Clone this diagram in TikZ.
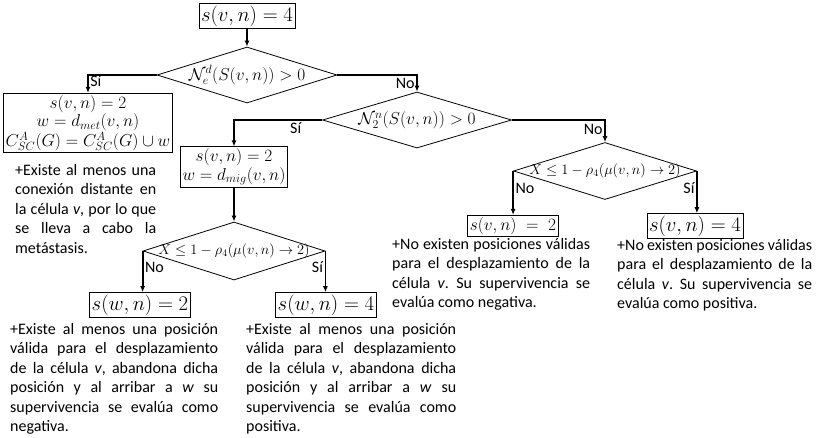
\documentclass[tikz,border=0pt]{standalone}
\usepackage{fontspec}
\setmainfont{Carlito}
\usetikzlibrary{shapes.geometric,arrows.meta}
\frenchspacing

\newcommand{\notefont}{\fontsize{16}{19.5}\selectfont}
\newcommand{\bigmath}{\fontsize{20}{22}\selectfont}
\newcommand{\midmath}{\fontsize{17}{16.5}\selectfont}
\newcommand{\smallmath}{\fontsize{14}{15}\selectfont}

\tikzset{
  box/.style={draw, line width=0.9pt, inner sep=2pt},
  decision/.style={diamond, draw, line width=0.8pt, inner sep=0pt},
  flow/.style={line width=1.8pt, -{Latex[length=6pt,width=5pt]}},
  note/.style={anchor=north west, inner sep=0pt, align=justify, font=\notefont},
  tag/.style={font=\notefont, inner sep=1.5pt},
}

\begin{document}
\begin{tikzpicture}[x=1pt,y=-1pt]
  \useasboundingbox (0,0) rectangle (817,437);
  % decisiones y estados
  \node[box, font=\bigmath] (start) at (247,16) {$s(v,n)=4$};
  \node[decision, minimum width=180pt, minimum height=56pt,
        label={[font=\midmath]center:$\mathcal{N}_e^d(S(v,n))>0$}] (dmet) at (247,75) {};
  \node[box, align=center, font=\midmath] (met) at (88,123)
       {$s(v,n)=2$\\$w=d_{met}(v,n)$\\$C^A_{SC}(G)=C^A_{SC}(G)\cup w$};
  \node[decision, minimum width=189pt, minimum height=56pt,
        label={[font=\midmath]center:$\mathcal{N}_2^n(S(v,n))>0$}] (dmig) at (417,120) {};
  \node[box, align=center, font=\midmath] (mig) at (234,167)
       {$s(v,n)=2$\\$w=d_{mig}(v,n)$};
  \node[decision, minimum width=182pt, minimum height=58pt,
        label={[font=\smallmath]center:$X\leq 1-\rho_4(\mu(v,n)\rightarrow 2)$}] (dmove) at (234,251) {};
  \node[box, font=\bigmath] (moveno) at (140,305) {$s(w,n)=2$};
  \node[box, font=\bigmath] (moveyes) at (326,305) {$s(w,n)=4$};
  \node[decision, minimum width=183pt, minimum height=57pt,
        label={[font=\smallmath]center:$X\leq 1-\rho_4(\mu(v,n)\rightarrow 2)$}] (dstay) at (605,171) {};
  \node[box, font=\fontsize{19}{21}\selectfont] (stayno) at (513,226) {$s(v,n)\;=\;2$};
  \node[box, font=\bigmath] (stayyes) at (695,226) {$s(v,n)=4$};

  % conectores
  \draw[flow] (start) -- (dmet);
  \draw[flow] (dmet.west) -| node[tag, pos=0.68, right] (ymet) {Sí} (met.north);
  \draw[flow] (dmet.east) -| node[tag, pos=0.75, left] (nomet) {No} (dmig.north);
  \draw[flow] (dmig.west) -| node[tag, pos=0.15, below] (ymig) {Sí} (mig.north);
  \draw[flow] (dmig.east) -| node[tag, pos=0.72, left] (nomig) {No} (dstay.north);
  \draw[flow] (mig) -- (dmove);
  \draw[flow] (dmove.west) -- node[tag, pos=0.4, right] (nomove) {No} (dmove.west |- moveno.north);
  \draw[flow] (dmove.east) -- node[tag, pos=0.4, left] (ymove) {Sí} (dmove.east |- moveyes.north);
  \draw[flow] (dstay.west) -- node[tag, pos=0.4, right] (nostay) {No} (dstay.west |- stayno.north);
  \draw[flow] (dstay.east) -- node[tag, pos=0.4, left] (ystay) {Sí} (dstay.east |- stayyes.north);

  % notas
  \node[note, text width=141pt] (nmet) at (15,164)
       {+Existe al menos una\linebreak conexión distante en\linebreak la célula \textit{v}, por lo que\linebreak se lleva a cabo la\linebreak metástasis.};
  \node[note, text width=208pt] (nmoveno) at (10,323)
       {+Existe al menos una posición\linebreak válida para el desplazamiento\linebreak de la célula \textit{v}, abandona dicha\linebreak posición y al arribar a \textit{w} su\linebreak supervivencia se evalúa como\linebreak negativa.};
  \node[note, text width=210pt] (nmoveyes) at (246,323)
       {+Existe al menos una posición\linebreak válida para el desplazamiento\linebreak de la célula \textit{v}, abandona dicha\linebreak posición y al arribar a \textit{w} su\linebreak supervivencia se evalúa como\linebreak positiva.};
  \node[note, text width=198pt] (nstayno) at (392,238)
       {+No existen posiciones válidas\linebreak para el desplazamiento de la\linebreak célula \textit{v}. Su supervivencia se\linebreak evalúa como negativa.};
  \node[note, text width=195pt] (nstayyes) at (617,239)
       {+No existen posiciones válidas\linebreak para el desplazamiento de la\linebreak célula \textit{v}. Su supervivencia se\linebreak evalúa como positiva.};
\end{tikzpicture}
\end{document}
